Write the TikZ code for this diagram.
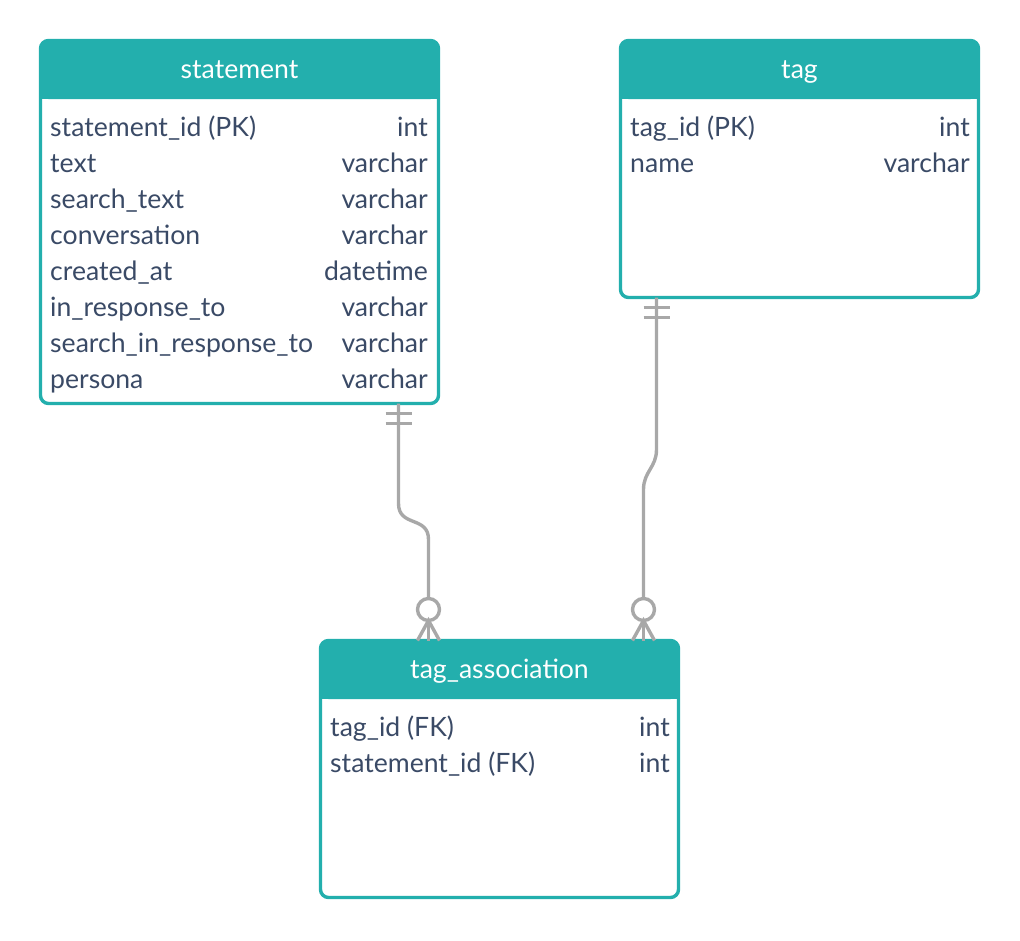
\documentclass[tikz,border=0pt]{standalone}
\usepackage{fontspec}
\setmainfont{Lato}
\usetikzlibrary{calc}
\definecolor{tealhead}{HTML}{23AFAD}
\definecolor{fieldtext}{HTML}{3A4A66}
\definecolor{linkgray}{HTML}{A8A8A8}

\begin{document}
\begin{tikzpicture}[x=1pt,y=-1pt,
  entity/.style={draw=tealhead,line width=3.4pt,rounded corners=8pt,fill=white,
    inner sep=0pt,outer sep=0pt,anchor=north west},
  head/.style={fill=tealhead},
  title/.style={anchor=base,font=\fontsize{26.6}{30}\selectfont,text=white,inner sep=0pt},
  fname/.style={anchor=base west,font=\fontsize{26.6}{30}\selectfont,text=fieldtext,inner sep=0pt},
  ftype/.style={anchor=base east,font=\fontsize{26.6}{30}\selectfont,text=fieldtext,inner sep=0pt},
  rel/.style={draw=linkgray,line width=3.4pt},
  optring/.style={circle,draw=linkgray,line width=3.4pt,fill=white,minimum size=22pt,
    inner sep=0pt,outer sep=0pt}]

\useasboundingbox (0,0) rectangle (1020,940);

% statement table
\node[entity,minimum width=398pt,minimum height=363pt] (stmt) at (40.5,40.5) {};
\fill[head,rounded corners=8pt] (stmt.north west) rectangle ($(stmt.north east)+(0,58.5)$);
\fill[head] ($(stmt.north west)+(0,30)$) rectangle ($(stmt.north east)+(0,58.5)$);
\node[title] (stmt-title) at (239.5,78) {statement};
\node[fname] (stmt-n1) at (50,136) {statement\_id (PK)};
\node[ftype] (stmt-t1) at (428,136) {int};
\node[fname] (stmt-n2) at (50,172) {text};
\node[ftype] (stmt-t2) at (428,172) {varchar};
\node[fname] (stmt-n3) at (50,208) {search\_text};
\node[ftype] (stmt-t3) at (428,208) {varchar};
\node[fname] (stmt-n4) at (50,244) {conversation};
\node[ftype] (stmt-t4) at (428,244) {varchar};
\node[fname] (stmt-n5) at (50,280) {created\_at};
\node[ftype] (stmt-t5) at (428,280) {datetime};
\node[fname] (stmt-n6) at (50,316) {in\_response\_to};
\node[ftype] (stmt-t6) at (428,316) {varchar};
\node[fname] (stmt-n7) at (50,352) {search\_in\_response\_to};
\node[ftype] (stmt-t7) at (428,352) {varchar};
\node[fname] (stmt-n8) at (50,388) {persona};
\node[ftype] (stmt-t8) at (428,388) {varchar};

% tag table
\node[entity,minimum width=358pt,minimum height=257pt] (tag) at (620.5,40.5) {};
\fill[head,rounded corners=8pt] (tag.north west) rectangle ($(tag.north east)+(0,58.5)$);
\fill[head] ($(tag.north west)+(0,30)$) rectangle ($(tag.north east)+(0,58.5)$);
\node[title] (tag-title) at (799.5,78) {tag};
\node[fname] (tag-n1) at (630,136) {tag\_id (PK)};
\node[ftype] (tag-t1) at (970,136) {int};
\node[fname] (tag-n2) at (630,172) {name};
\node[ftype] (tag-t2) at (970,172) {varchar};

% tag_association table
\node[entity,minimum width=358pt,minimum height=257pt] (assoc) at (320.5,640.5) {};
\fill[head,rounded corners=8pt] (assoc.north west) rectangle ($(assoc.north east)+(0,58.5)$);
\fill[head] ($(assoc.north west)+(0,30)$) rectangle ($(assoc.north east)+(0,58.5)$);
\node[title] (assoc-title) at (499.5,678) {tag\_association};
\node[fname] (assoc-n1) at (330,736) {tag\_id (FK)};
\node[ftype] (assoc-t1) at (670,736) {int};
\node[fname] (assoc-n2) at (330,772) {statement\_id (FK)};
\node[ftype] (assoc-t2) at (670,772) {int};

% statement -- tag_association
\coordinate (s1) at ($(stmt.south east)+(-40,0)$);
\node[optring] (ring1) at ($(s1)+(30,206)$) {};
\draw[rel] (s1) -- ++(0,100) .. controls +(0,24) and +(0,-24) .. ++(30,36) -- (ring1.north);
\draw[rel] ($(s1)+(-13,10)$) -- ++(26,0);
\draw[rel] ($(s1)+(-13,20)$) -- ++(26,0);
\draw[rel] (ring1.south) -- (ring1.south |- assoc.north);
\draw[rel] ($(ring1.south |- assoc.north)+(-11,0)$) -- (ring1.south) -- ($(ring1.south |- assoc.north)+(11,0)$);

% tag -- tag_association
\coordinate (s2) at ($(tag.south west)+(36,0)$);
\node[optring] (ring2) at ($(s2)+(-13,312)$) {};
\draw[rel] (s2) -- ++(0,152) .. controls +(0,18) and +(0,-18) .. ++(-13,40) -- (ring2.north);
\draw[rel] ($(s2)+(-13,10)$) -- ++(26,0);
\draw[rel] ($(s2)+(-13,20)$) -- ++(26,0);
\draw[rel] (ring2.south) -- (ring2.south |- assoc.north);
\draw[rel] ($(ring2.south |- assoc.north)+(-11,0)$) -- (ring2.south) -- ($(ring2.south |- assoc.north)+(11,0)$);
\end{tikzpicture}
\end{document}
